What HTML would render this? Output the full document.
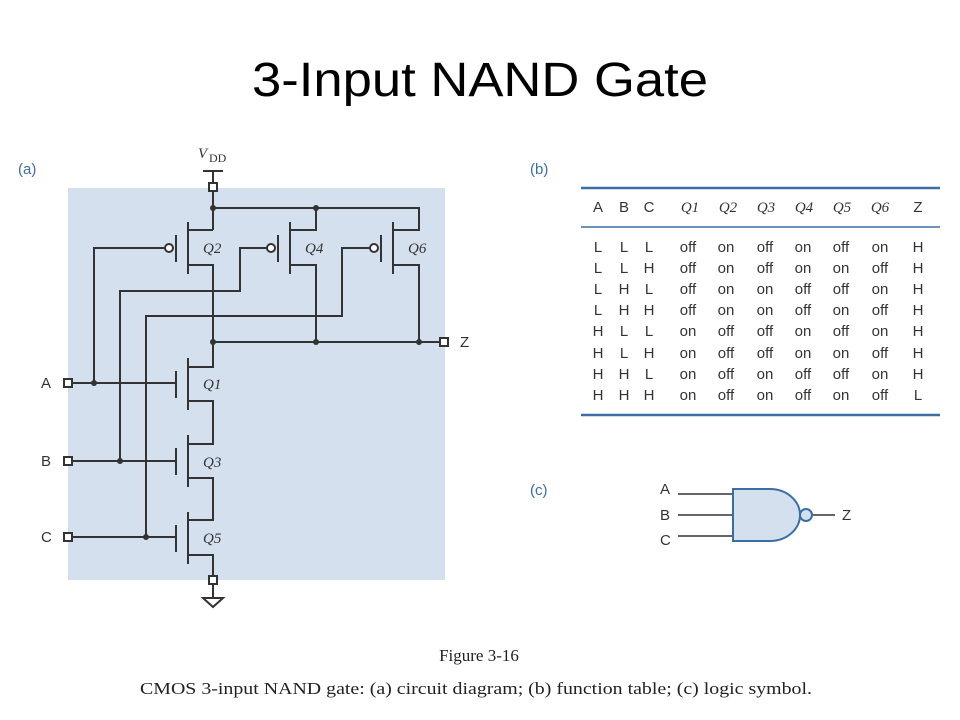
<!DOCTYPE html>
<html><head><meta charset="utf-8"><style>
html,body{margin:0;padding:0;background:#fff}
svg{display:block}
.s{font-family:"Liberation Sans",sans-serif}
.r{font-family:"Liberation Serif",serif}
</style></head><body>
<svg width="960" height="720" viewBox="0 0 960 720" xmlns="http://www.w3.org/2000/svg">
<text x="480" y="96" text-anchor="middle" class="s" font-size="48" fill="#000" textLength="456" lengthAdjust="spacingAndGlyphs">3-Input NAND Gate</text>
<text x="18" y="174" class="s" font-size="15" fill="#3a6ea5">(a)</text>
<text x="530" y="174" class="s" font-size="15" fill="#3a6ea5">(b)</text>
<text x="530" y="495" class="s" font-size="15" fill="#3a6ea5">(c)</text>
<rect x="68" y="188" width="377" height="392" fill="#d5e0ee"/>
<g stroke="#333" stroke-width="2" fill="none">
<line x1="203" y1="171" x2="223" y2="171"/>
<line x1="213" y1="171" x2="213" y2="183"/>
<line x1="213" y1="192" x2="213" y2="230"/>
<polyline points="213,208 419,208 419,230 393,230"/>
<polyline points="316,208 316,230 290,230"/>
<line x1="188" y1="230" x2="213" y2="230"/>
<line x1="188" y1="222" x2="188" y2="274"/><line x1="176" y1="235" x2="176" y2="262"/>
<line x1="290" y1="222" x2="290" y2="274"/><line x1="278" y1="235" x2="278" y2="262"/>
<line x1="393" y1="222" x2="393" y2="274"/><line x1="381" y1="235" x2="381" y2="262"/>
<circle cx="169" cy="248" r="4" fill="#fff"/>
<circle cx="271" cy="248" r="4" fill="#fff"/>
<circle cx="374" cy="248" r="4" fill="#fff"/>
<polyline points="188,265 213,265 213,367 188,367"/>
<polyline points="290,265 316,265 316,342"/>
<polyline points="393,265 419,265 419,342"/>
<line x1="213" y1="342" x2="440" y2="342"/>
<polyline points="165,248 94,248 94,383"/>
<polyline points="267,248 240,248 240,291 120,291 120,461"/>
<polyline points="370,248 342,248 342,316 146,316 146,537"/>
<line x1="72" y1="383" x2="176" y2="383"/>
<line x1="72" y1="461" x2="176" y2="461"/>
<line x1="72" y1="537" x2="176" y2="537"/>
<line x1="188" y1="358" x2="188" y2="410"/><line x1="176" y1="371" x2="176" y2="398"/>
<line x1="188" y1="435" x2="188" y2="487"/><line x1="176" y1="448" x2="176" y2="475"/>
<line x1="188" y1="512" x2="188" y2="564"/><line x1="176" y1="525" x2="176" y2="552"/>
<polyline points="188,401 213,401 213,444 188,444"/>
<polyline points="188,478 213,478 213,520 188,520"/>
<polyline points="188,555 213,555 213,576"/>
<line x1="213" y1="585" x2="213" y2="598"/>
<polygon points="203,598 223,598 213,607"/>
<rect x="209" y="183" width="8" height="8" fill="#fff"/>
<rect x="440" y="338" width="8" height="8" fill="#fff"/>
<rect x="64" y="379" width="8" height="8" fill="#fff"/>
<rect x="64" y="457" width="8" height="8" fill="#fff"/>
<rect x="64" y="533" width="8" height="8" fill="#fff"/>
<rect x="209" y="576" width="8" height="8" fill="#fff"/>
</g>
<g fill="#333">
<circle cx="213" cy="208" r="3"/><circle cx="316" cy="208" r="3"/>
<circle cx="213" cy="342" r="3"/><circle cx="316" cy="342" r="3"/><circle cx="419" cy="342" r="3"/>
<circle cx="94" cy="383" r="3"/><circle cx="120" cy="461" r="3"/><circle cx="146" cy="537" r="3"/>
</g>
<g class="r" font-style="italic" font-size="15" fill="#333">
<text x="198" y="158">V</text><text x="209" y="162" font-style="normal" font-size="12">DD</text>
<text x="203" y="253">Q2</text><text x="305" y="253">Q4</text><text x="408" y="253">Q6</text>
<text x="203" y="389">Q1</text><text x="203" y="467">Q3</text><text x="203" y="543">Q5</text>
</g>
<g class="s" font-size="15" fill="#333">
<text x="41" y="388">A</text><text x="41" y="466">B</text><text x="41" y="542">C</text>
<text x="460" y="347">Z</text>
</g>
<line x1="581" y1="188" x2="940" y2="188" stroke="#3a6ea5" stroke-width="2.5"/>
<line x1="581" y1="227" x2="940" y2="227" stroke="#3a6ea5" stroke-width="1.5"/>
<line x1="581" y1="415" x2="940" y2="415" stroke="#3a6ea5" stroke-width="2.5"/>
<g class="s" font-size="15" fill="#333" text-anchor="middle">
<text x="598" y="212">A</text><text x="624" y="212">B</text><text x="649" y="212">C</text>
<text x="918" y="212">Z</text>
</g>
<g class="r" font-style="italic" font-size="15" fill="#333" text-anchor="middle">
<text x="690" y="212">Q1</text><text x="728" y="212">Q2</text><text x="766" y="212">Q3</text>
<text x="804" y="212">Q4</text><text x="842" y="212">Q5</text><text x="880" y="212">Q6</text>
</g>
<g class="s" font-size="15" fill="#333" text-anchor="middle">
<text y="252"><tspan x="598">L</tspan><tspan x="624">L</tspan><tspan x="649">L</tspan><tspan x="688">off</tspan><tspan x="726">on</tspan><tspan x="765">off</tspan><tspan x="803">on</tspan><tspan x="841">off</tspan><tspan x="880">on</tspan><tspan x="918">H</tspan></text>
<text y="273"><tspan x="598">L</tspan><tspan x="624">L</tspan><tspan x="649">H</tspan><tspan x="688">off</tspan><tspan x="726">on</tspan><tspan x="765">off</tspan><tspan x="803">on</tspan><tspan x="841">on</tspan><tspan x="880">off</tspan><tspan x="918">H</tspan></text>
<text y="294"><tspan x="598">L</tspan><tspan x="624">H</tspan><tspan x="649">L</tspan><tspan x="688">off</tspan><tspan x="726">on</tspan><tspan x="765">on</tspan><tspan x="803">off</tspan><tspan x="841">off</tspan><tspan x="880">on</tspan><tspan x="918">H</tspan></text>
<text y="315"><tspan x="598">L</tspan><tspan x="624">H</tspan><tspan x="649">H</tspan><tspan x="688">off</tspan><tspan x="726">on</tspan><tspan x="765">on</tspan><tspan x="803">off</tspan><tspan x="841">on</tspan><tspan x="880">off</tspan><tspan x="918">H</tspan></text>
<text y="336"><tspan x="598">H</tspan><tspan x="624">L</tspan><tspan x="649">L</tspan><tspan x="688">on</tspan><tspan x="726">off</tspan><tspan x="765">off</tspan><tspan x="803">on</tspan><tspan x="841">off</tspan><tspan x="880">on</tspan><tspan x="918">H</tspan></text>
<text y="358"><tspan x="598">H</tspan><tspan x="624">L</tspan><tspan x="649">H</tspan><tspan x="688">on</tspan><tspan x="726">off</tspan><tspan x="765">off</tspan><tspan x="803">on</tspan><tspan x="841">on</tspan><tspan x="880">off</tspan><tspan x="918">H</tspan></text>
<text y="379"><tspan x="598">H</tspan><tspan x="624">H</tspan><tspan x="649">L</tspan><tspan x="688">on</tspan><tspan x="726">off</tspan><tspan x="765">on</tspan><tspan x="803">off</tspan><tspan x="841">off</tspan><tspan x="880">on</tspan><tspan x="918">H</tspan></text>
<text y="400"><tspan x="598">H</tspan><tspan x="624">H</tspan><tspan x="649">H</tspan><tspan x="688">on</tspan><tspan x="726">off</tspan><tspan x="765">on</tspan><tspan x="803">off</tspan><tspan x="841">on</tspan><tspan x="880">off</tspan><tspan x="918">L</tspan></text>
</g>
<g stroke="#333" stroke-width="1.5">
<line x1="678" y1="494" x2="733" y2="494"/>
<line x1="678" y1="515" x2="733" y2="515"/>
<line x1="678" y1="536" x2="733" y2="536"/>
<line x1="812" y1="515" x2="835" y2="515"/>
</g>
<path d="M733,489 L770,489 A30,26 0 0 1 770,541 L733,541 Z" fill="#d5e0ee" stroke="#3a6ea5" stroke-width="2"/>
<circle cx="806" cy="515" r="6" fill="#d5e0ee" stroke="#3a6ea5" stroke-width="2"/>
<g class="s" font-size="15" fill="#333">
<text x="660" y="494">A</text><text x="660" y="520">B</text><text x="660" y="545">C</text>
<text x="842" y="520">Z</text>
</g>
<text x="479" y="661" text-anchor="middle" class="r" font-size="17" fill="#222">Figure 3-16</text>
<text x="476" y="694" text-anchor="middle" class="r" font-size="17" fill="#222" textLength="672" lengthAdjust="spacingAndGlyphs">CMOS 3-input NAND gate: (a) circuit diagram; (b) function table; (c) logic symbol.</text>
</svg>
</body></html>
